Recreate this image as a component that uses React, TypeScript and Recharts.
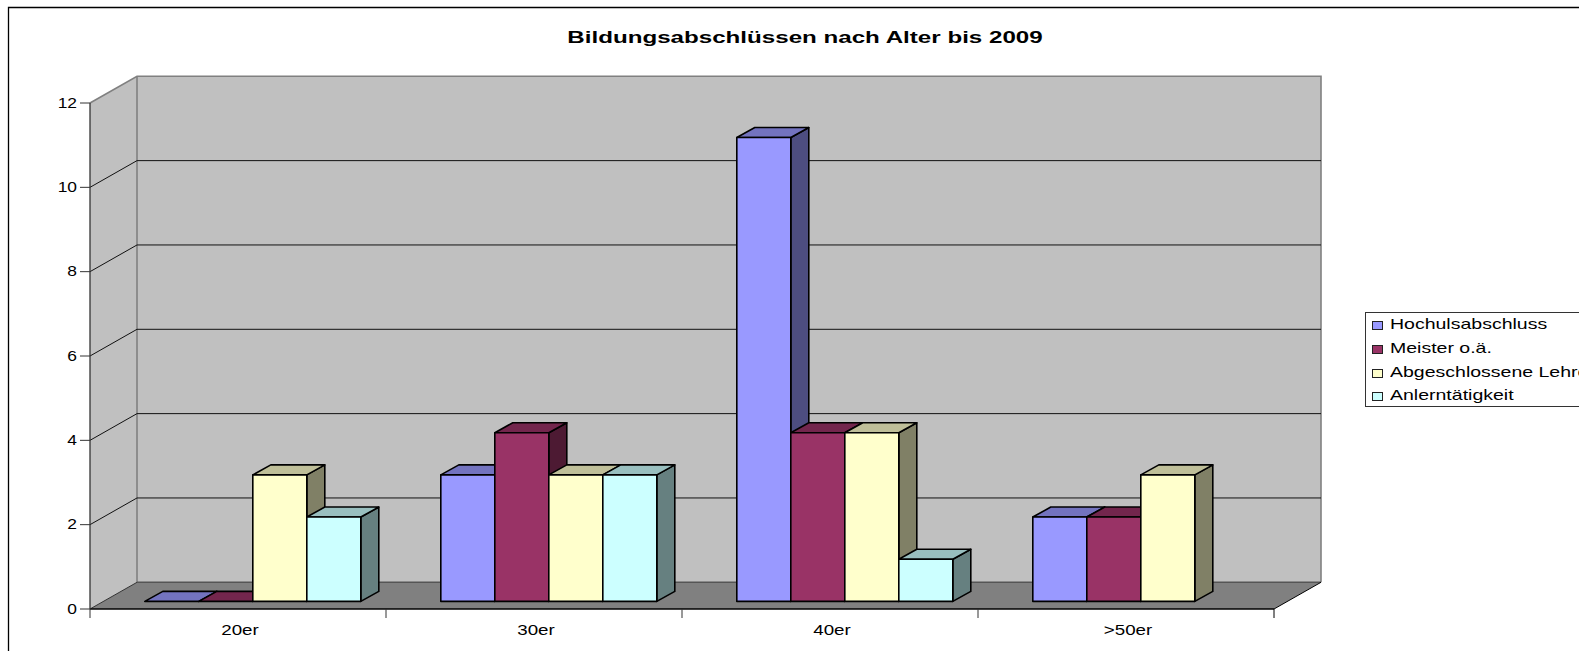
import { BarChart, Bar, XAxis, YAxis, CartesianGrid, Legend } from "recharts"

const categories = ["20er", "30er", "40er", ">50er"]
const seriesNames = ["Hochulsabschluss", "Meister o.ä.", "Abgeschlossene Lehre", "Anlerntätigkeit"]
const hochschule = [0, 3, 11, 2]
const meister = [0, 4, 4, 2]
const lehre = [3, 3, 4, 3]
const anlern = [2, 3, 1, null]
const yTicks = [0, 2, 4, 6, 8, 10, 12]

const data = categories.map((name, i) => ({
  name,
  hochschule: hochschule[i],
  meister: meister[i],
  lehre: lehre[i],
  anlern: anlern[i],
}))

const font = "'Liberation Sans', Arial, sans-serif"

// front plane of the fake 3d box
const left = 90
const right = 1274
const top = 103
const bottom = 609
const depthX = 47
const depthY = 26.7
const bandWidth = (right - left) / categories.length

// bar depth and where the bar sits inside the box
const barDepthX = 18
const barDepthY = 10
const barShiftX = 14.8
const barShiftY = 7.6

function shade(hex: string, f: number) {
  const n = parseInt(hex.slice(1), 16)
  const c = [(n >> 16) & 255, (n >> 8) & 255, n & 255].map((v) => Math.round(v * f))
  return `rgb(${c.join(",")})`
}

function Bar3D(props: any) {
  const { x, y, width, height, fill, payload, dataKey } = props
  if (payload[dataKey] == null) return null
  const fx = x + barShiftX
  const fy = y - barShiftY
  const line = { stroke: "#000", strokeWidth: 1.6, strokeLinejoin: "round" as const }
  return (
    <g>
      <path
        d={`M${fx + width},${fy} l${barDepthX},${-barDepthY} v${height} l${-barDepthX},${barDepthY} z`}
        fill={shade(fill, 0.5)}
        {...line}
      />
      <path
        d={`M${fx},${fy} l${barDepthX},${-barDepthY} h${width} l${-barDepthX},${barDepthY} z`}
        fill={shade(fill, 0.75)}
        {...line}
      />
      <rect x={fx} y={fy} width={width} height={height} fill={fill} {...line} />
    </g>
  )
}

function Walls() {
  const bx = left + depthX
  const by = bottom - depthY
  const ty = top - depthY
  return (
    <g>
      <path d={`M${left},${top} L${bx},${ty} H${right + depthX} V${by} H${bx} L${left},${bottom} z`} fill="#c0c0c0" />
      <path d={`M${left},${bottom} L${bx},${by} H${right + depthX} L${right},${bottom} z`} fill="#808080" />
      <g fill="none">
        <path d={`M${left},${top} L${bx},${ty} H${right + depthX} V${by}`} stroke="#808080" strokeWidth={1.6} />
        <path d={`M${bx},${ty} V${by}`} stroke="#808080" strokeWidth={1.6} />
        <path d={`M${bx},${by} H${right + depthX}`} stroke="#555" strokeWidth={1.5} />
        <path d={`M${left},${bottom} L${bx},${by}`} stroke="#333" strokeWidth={1} />
        <path d={`M${right},${bottom} L${right + depthX},${by}`} stroke="#000" strokeWidth={1} />
      </g>
    </g>
  )
}

function gridLine(props: any) {
  const { x1, x2, y1, index } = props
  if (y1 <= top + 1 || y1 >= bottom - 1) return <g key={index} />
  return (
    <path
      key={index}
      d={`M${x1},${y1} L${x1 + depthX},${y1 - depthY} H${x2 + depthX}`}
      fill="none"
      stroke="#111"
      strokeWidth={1}
    />
  )
}

function YTick(props: any) {
  const { y, payload } = props
  return (
    <text
      transform={`translate(77,${y + 4.5}) scale(1.2,1)`}
      textAnchor="end"
      fontFamily={font}
      fontSize={14.5}
      fill="#000"
    >
      {payload.value}
    </text>
  )
}

function XTick(props: any) {
  const { x, payload, index } = props
  const last = index === categories.length - 1
  return (
    <g>
      <line x1={x - bandWidth / 2} x2={x - bandWidth / 2} y1={bottom} y2={bottom + 9} stroke="#333" />
      {last && <line x1={x + bandWidth / 2} x2={x + bandWidth / 2} y1={bottom} y2={bottom + 9} stroke="#000" />}
      <text
        transform={`translate(${x + 2},${bottom + 25.5}) scale(1.25,1)`}
        textAnchor="middle"
        fontFamily={font}
        fontSize={15}
        fill="#000"
      >
        {payload.value}
      </text>
    </g>
  )
}

function LegendBox(props: any) {
  return (
    <div style={{ margin: "-1px 0 0 6px" }}>
      {props.payload.map((item: any) => (
        <div key={item.value} style={{ height: 23.7, display: "flex", alignItems: "center", whiteSpace: "nowrap" }}>
          <span
            style={{
              width: 9,
              height: 7,
              marginTop: 4,
              background: item.color,
              border: "1px solid #222",
              display: "inline-block",
            }}
          />
          <span
            style={{
              marginLeft: 7,
              fontFamily: font,
              fontSize: 15,
              color: "#000",
              display: "inline-block",
              transform: "scaleX(1.3)",
              transformOrigin: "left center",
            }}
          >
            {item.value}
          </span>
        </div>
      ))}
    </div>
  )
}

export default function App() {
  return (
    <div style={{ position: "absolute", left: 0, top: 0, width: 1579, height: 651, overflow: "hidden", background: "#fff" }}>
      <BarChart
        width={1579}
        height={651}
        data={data}
        barCategoryGap={40}
        barGap={0}
        margin={{ top, right: 1579 - right, bottom: 12, left: 30 }}
      >
        <path d="M8.5,651 V7.5 H1579" fill="none" stroke="#000" strokeWidth={1.3} />
        <text
          transform="translate(805,42.5) scale(1.464,1)"
          textAnchor="middle"
          fontFamily={font}
          fontSize={16.5}
          fontWeight="bold"
          fill="#000"
        >
          Bildungsabschlüssen nach Alter bis 2009
        </text>
        <Walls />
        <CartesianGrid vertical={false} horizontal={gridLine} zIndex={1} />
        <XAxis dataKey="name" height={30} tickLine={false} axisLine={{ stroke: "#000", strokeWidth: 1.3 }} tick={XTick} interval={0} />
        <YAxis
          width={60}
          domain={[0, 12]}
          ticks={yTicks}
          tickSize={10}
          tickLine={{ stroke: "#333" }}
          axisLine={{ stroke: "#333", strokeWidth: 1.3 }}
          tick={YTick}
          interval={0}
        />
        <Legend
          layout="vertical"
          align="center"
          verticalAlign="middle"
          content={LegendBox}
          itemSorter={(item: any) => seriesNames.indexOf(item.value)}
          wrapperStyle={{
            left: 1365,
            top: 312,
            width: 240,
            height: 95,
            border: "1px solid #333",
            boxSizing: "border-box",
            background: "#fff",
          }}
        />
        <Bar dataKey="hochschule" name={seriesNames[0]} fill="#9999ff" shape={Bar3D} isAnimationActive={false} />
        <Bar dataKey="meister" name={seriesNames[1]} fill="#993366" shape={Bar3D} isAnimationActive={false} />
        <Bar dataKey="lehre" name={seriesNames[2]} fill="#ffffcc" shape={Bar3D} isAnimationActive={false} />
        <Bar dataKey="anlern" name={seriesNames[3]} fill="#ccffff" shape={Bar3D} isAnimationActive={false} />
      </BarChart>
    </div>
  )
}
